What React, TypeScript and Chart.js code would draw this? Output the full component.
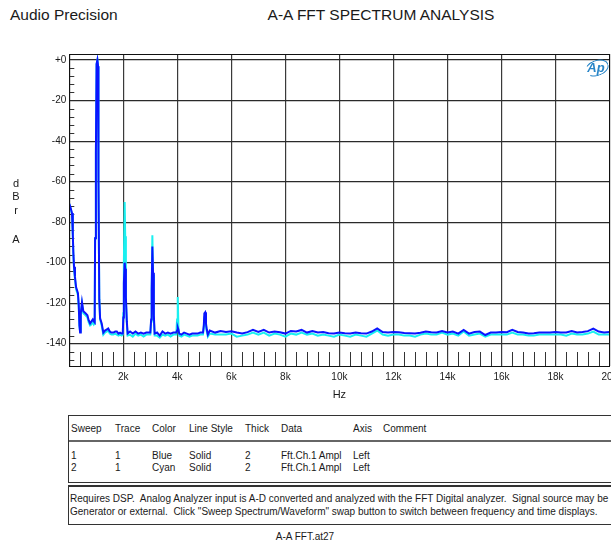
import React, { useEffect, useRef } from 'react';
import { Chart, registerables } from 'chart.js';

Chart.register(...registerables);

// ---- Data ----
const freqHz = [
  0, 50, 100, 130, 150, 175, 210, 250, 320, 350, 375, 400, 425, 470, 520, 600, 670, 720, 770, 820, 870, 910, 940,
  955, 985, 1010, 1040, 1065, 1080, 1110, 1140,
  1200, 1260, 1320, 1380, 1440, 1500, 1560, 1630, 1700, 1760, 1820, 1880, 1940, 1980,
  2000, 2020, 2050, 2070, 2095, 2130, 2160,
  2250, 2350, 2450, 2550, 2650, 2750, 2850, 2950, 3000,
  3030, 3050, 3075, 3100, 3130, 3160,
  3250, 3350, 3450, 3550, 3650, 3750, 3850, 3960,
  3990, 4015, 4040, 4070,
  4150, 4250, 4350, 4450, 4550, 4650, 4750, 4850, 4950,
  4980, 5000, 5030, 5060, 5090, 5130,
  5200, 5400, 5600, 5800, 6000, 6200, 6400, 6600, 6800, 7000,
  7200, 7400, 7600, 7800, 8000, 8200, 8400, 8600, 8800, 9000,
  9200, 9400, 9600, 9800, 10000, 10200, 10400, 10600, 10800, 11000,
  11200, 11400, 11600, 11800, 12000, 12200, 12400, 12600, 12800, 13000,
  13200, 13400, 13600, 13800, 14000, 14200, 14400, 14600, 14800, 15000,
  15200, 15400, 15600, 15800, 16000, 16200, 16400, 16600, 16800, 17000,
  17200, 17400, 17600, 17800, 18000, 18200, 18400, 18600, 18800, 19000,
  19200, 19400, 19600, 19800, 20000,
];

const blueDb = [
  -71, -73, -75.5, -86, -95, -102, -107, -112, -115, -121, -131, -134.5, -125, -119.5, -124, -125, -126, -128.5, -130, -129, -128, -129, -129.5,
  -88, -46, -2, 0, -3, -59, -118, -127.5,
  -130, -134.5, -133.5, -133, -132.5, -134, -134.5, -134.5, -134, -134, -135, -134.5, -135, -135,
  -127, -110, -100, -103, -117, -129, -135,
  -134, -135, -134, -135, -134.5, -135, -134.5, -134.5, -134.5,
  -128, -114, -92, -105, -126, -135,
  -134.5, -136, -134, -135, -134.5, -135, -134.5, -134.5,
  -133.5, -132, -133, -135,
  -135.5, -134.5, -135, -135.5, -135, -135, -135, -134.5, -134.5,
  -131, -125, -124.5, -130, -133, -135.5,
  -133.5, -134.5, -133.7, -134.2, -133.9, -134.5, -134.9, -134.3, -133.2, -134.2,
  -133.2, -134.5, -134, -134.3, -135, -133.7, -134, -133.2, -134.5, -133.7,
  -134.5, -134.2, -134.8, -135, -134.5, -134.8, -135, -134.5, -134.8, -135,
  -134, -132.4, -134.2, -134.5, -134.2, -134.3, -134.7, -134.8, -135, -134.6,
  -134, -134.3, -134.5, -133.7, -134.5, -134, -135, -133.2, -135, -134.2,
  -134, -135.7, -134.5, -134.5, -134.2, -134.3, -133.2, -134.2, -134.5, -135,
  -134.8, -134.5, -134.5, -134.5, -134.2, -134.5, -134.5, -133.7, -134.5, -134.2,
  -133.8, -132.5, -134, -134.5, -134.2,
];

const cyanDb = [
  -71, -73.5, -76, -87, -96, -103, -108, -113, -116, -122, -131, -134, -126, -120.5, -125, -126, -127, -129.5, -131, -130.5, -129, -130.5, -130,
  -88, -46, -2, 0, -3, -59, -118, -128,
  -131, -135.5, -134.5, -134, -133.5, -135, -135.5, -135.5, -135, -135.5, -136, -135.5, -136, -135.5,
  -125, -100, -70, -87, -118, -130, -136,
  -135.5, -136.5, -135, -136, -135.5, -136.5, -135.5, -135.5, -135.5,
  -129, -114, -86.5, -106, -128, -136,
  -136, -137, -135.5, -136, -135.5, -136.5, -135.5, -135.5,
  -128, -117, -132, -136,
  -136.5, -135.5, -136, -136.5, -136, -136, -136, -135.5, -135.5,
  -132, -127, -126, -131, -134, -136.5,
  -135, -135.5, -135.5, -135.5, -135, -136.5, -136, -135.5, -134.5, -135.5,
  -134.5, -136, -135, -135.5, -136.5, -135, -135.5, -134.5, -135.5, -135,
  -136, -135.5, -136, -136.5, -135.5, -136, -136.5, -135.5, -136, -136.5,
  -135, -133.5, -135.5, -136, -135.5, -135.5, -136, -136, -136.5, -135.5,
  -135, -135.5, -135.5, -134.5, -135.5, -135, -136, -134, -136, -135.5,
  -135, -136.5, -135.5, -135.5, -135.5, -135.5, -134.5, -135.5, -135.5, -136,
  -136, -135.5, -135.5, -135.5, -135.5, -135.5, -136, -135, -135.5, -135.5,
  -135, -134, -135.5, -135.5, -135.5,
];

const yTickValues = [0, -20, -40, -60, -80, -100, -120, -140];
const xTickValues = [0, 2000, 4000, 6000, 8000, 10000, 12000, 14000, 16000, 18000, 20000];
const yMinorValues = [
  -4, -8, -12, -16, -24, -28, -32, -36, -44, -48, -52, -56, -64, -68, -72, -76,
  -84, -88, -92, -96, -104, -108, -112, -116, -124, -128, -132, -136, -144, -148,
];
const xMinorValues = [
  400, 800, 1200, 1600, 2400, 2800, 3200, 3600, 4400, 4800, 5200, 5600, 6400, 6800, 7200, 7600,
  8400, 8800, 9200, 9600, 10400, 10800, 11200, 11600, 12400, 12800, 13200, 13600,
  14400, 14800, 15200, 15600, 16400, 16800, 17200, 17600, 18400, 18800, 19200, 19600,
];

const tableHeader = ['Sweep', 'Trace', 'Color', 'Line Style', 'Thick', 'Data', 'Axis', 'Comment'];
const tableRows = [
  ['1', '1', 'Blue', 'Solid', '2', 'Fft.Ch.1 Ampl', 'Left', ''],
  ['2', '1', 'Cyan', 'Solid', '2', 'Fft.Ch.1 Ampl', 'Left', ''],
];
const noteLines = [
  'Requires DSP.  Analog Analyzer input is A-D converted and analyzed with the FFT Digital analyzer.  Signal source may be',
  'Generator or external.  Click "Sweep Spectrum/Waveform" swap button to switch between frequency and time displays.',
];

// ---- Layout constants ----
const FONT = '"Liberation Sans", Arial, sans-serif';
const colX = [71, 115, 152, 189, 245, 281, 353, 383];
const TXT = '#1a1a1a';

const framePlugin = {
  id: 'apFrame',
  beforeDatasetsDraw(chart: any) {
    const { ctx, chartArea, scales } = chart;
    const xs = scales.x;
    const ys = scales.y;
    ctx.save();
    ctx.strokeStyle = '#333';
    ctx.lineWidth = 1;
    ctx.beginPath();
    for (const v of yMinorValues) {
      const y = Math.round(ys.getPixelForValue(v)) + 0.5;
      ctx.moveTo(chartArea.left, y);
      ctx.lineTo(chartArea.left + 5, y);
    }
    for (const v of xMinorValues) {
      const x = Math.round(xs.getPixelForValue(v)) + 0.5;
      ctx.moveTo(x, chartArea.bottom - 14);
      ctx.lineTo(x, chartArea.bottom);
    }
    ctx.stroke();
    ctx.restore();
  },
  afterDraw(chart: any) {
    const { ctx, chartArea } = chart;
    ctx.save();
    ctx.strokeStyle = '#111';
    ctx.lineWidth = 1;
    ctx.strokeRect(
      Math.round(chartArea.left) + 0.5,
      Math.round(chartArea.top) + 0.5,
      Math.round(chartArea.right - chartArea.left),
      Math.round(chartArea.bottom - chartArea.top)
    );
    ctx.restore();
  },
};

function SpectrumChart() {
  const ref = useRef<HTMLCanvasElement | null>(null);
  useEffect(() => {
    if (!ref.current) return;
    const chart = new Chart(ref.current, {
      type: 'line',
      data: {
        datasets: [
          {
            label: 'Sweep 1',
            data: freqHz.map((f, i) => ({ x: f, y: blueDb[i] })),
            borderColor: '#0a14ff',
            borderWidth: 2,
            pointRadius: 0,
            tension: 0,
          },
          {
            label: 'Sweep 2',
            data: freqHz.map((f, i) => ({ x: f, y: cyanDb[i] })),
            borderColor: '#19f0f0',
            borderWidth: 2,
            pointRadius: 0,
            tension: 0,
          },
        ],
      },
      options: {
        responsive: false,
        animation: false,
        events: [],
        layout: { padding: { left: 0, top: 54, right: 30.5, bottom: 0 } },
        plugins: { legend: { display: false }, tooltip: { enabled: false } },
        scales: {
          x: {
            type: 'linear',
            min: 0,
            max: 20000,
            afterBuildTicks: (scale: any) => {
              scale.ticks = xTickValues.map((v) => ({ value: v }));
            },
            afterFit: (scale: any) => {
              scale.height = 40;
            },
            ticks: {
              autoSkip: false,
              maxRotation: 0,
              padding: 5,
              color: TXT,
              font: { family: FONT, size: 10 },
              callback: (v: any) => (v === 0 ? '' : v / 1000 + 'k'),
            },
            grid: { color: '#3a3a3a', lineWidth: 1.2, drawTicks: false },
            border: { display: false },
            title: {
              display: true,
              text: 'Hz',
              color: TXT,
              font: { family: FONT, size: 11 },
              padding: { top: 0, bottom: 4 },
            },
          },
          y: {
            type: 'linear',
            min: -151,
            max: 3,
            afterBuildTicks: (scale: any) => {
              scale.ticks = yTickValues.map((v) => ({ value: v }));
            },
            afterFit: (scale: any) => {
              scale.width = 69.3;
            },
            ticks: {
              autoSkip: false,
              padding: 3,
              color: TXT,
              font: { family: FONT, size: 10 },
              callback: (v: any) => (v === 0 ? '+0' : String(v)),
            },
            grid: { color: '#2a2a2a', lineWidth: 1.2, drawTicks: false },
            border: { display: false },
          },
        },
      },
      plugins: [framePlugin],
    });
    return () => chart.destroy();
  }, []);
  return (
    <canvas
      ref={ref}
      width={640}
      height={406}
      style={{ position: 'absolute', left: 0, top: 0, width: 640, height: 406 }}
    />
  );
}

function Text(props: { x: number; y: number; size: number; children: any; center?: boolean; style?: any }) {
  const lh = Math.round(props.size * 1.3);
  return (
    <div
      style={{
        position: 'absolute',
        left: props.center ? props.x - 300 : props.x,
        width: props.center ? 600 : undefined,
        textAlign: props.center ? 'center' : 'left',
        top: props.y - lh / 2,
        fontSize: props.size,
        lineHeight: lh + 'px',
        whiteSpace: 'pre',
        color: TXT,
        fontFamily: FONT,
        ...(props.style || {}),
      }}
    >
      {props.children}
    </div>
  );
}

export default function App() {
  useEffect(() => {
    document.body.style.margin = '0';
  }, []);
  return (
    <div
      style={{
        position: 'absolute',
        left: 0,
        top: 0,
        width: 611,
        height: 544,
        overflow: 'hidden',
        background: '#fff',
        fontFamily: FONT,
      }}
    >
      <Text x={10} y={15} size={15.5}>Audio Precision</Text>
      <Text x={381} y={15} size={15.5} center>A-A FFT SPECTRUM ANALYSIS</Text>

      <SpectrumChart />

      {/* y axis unit, stacked */}
      <Text x={16} y={183} size={11} center>d</Text>
      <Text x={16} y={196} size={11} center>B</Text>
      <Text x={16} y={210} size={11} center>r</Text>
      <Text x={16} y={239} size={11} center>A</Text>

      {/* Ap logo */}
      <div
        style={{
          position: 'absolute',
          left: 585,
          top: 60,
          width: 22,
          height: 14,
          border: '1.5px solid #2a86c8',
          borderLeftColor: 'transparent',
          borderRadius: '50%',
          transform: 'rotate(-20deg)',
        }}
      />
      <Text x={596} y={67} size={13} center style={{ color: '#2a86c8', fontStyle: 'italic', fontWeight: 'bold' }}>
        Ap
      </Text>

      {/* sweep table */}
      <div
        style={{
          position: 'absolute',
          left: 68,
          top: 415,
          width: 580,
          height: 66,
          border: '1px solid #333',
        }}
      />
      <div style={{ position: 'absolute', left: 69, top: 440, width: 580, height: 2, background: '#666' }} />
      {tableHeader.map((h, i) => (
        <Text key={'h' + i} x={colX[i]} y={428} size={10}>
          {h}
        </Text>
      ))}
      {tableRows.map((row, r) =>
        row.map((c, i) => (
          <Text key={'r' + r + '_' + i} x={colX[i]} y={455 + r * 12.5} size={10}>
            {c}
          </Text>
        ))
      )}

      {/* note box */}
      <div
        style={{
          position: 'absolute',
          left: 68,
          top: 485,
          width: 580,
          height: 37,
          border: '1px solid #333',
          borderTopWidth: 2,
        }}
      />
      {noteLines.map((l, i) => (
        <Text key={'n' + i} x={70} y={498 + i * 13} size={10}>
          {l}
        </Text>
      ))}

      <Text x={305} y={536} size={10} center>A-A FFT.at27</Text>
    </div>
  );
}
